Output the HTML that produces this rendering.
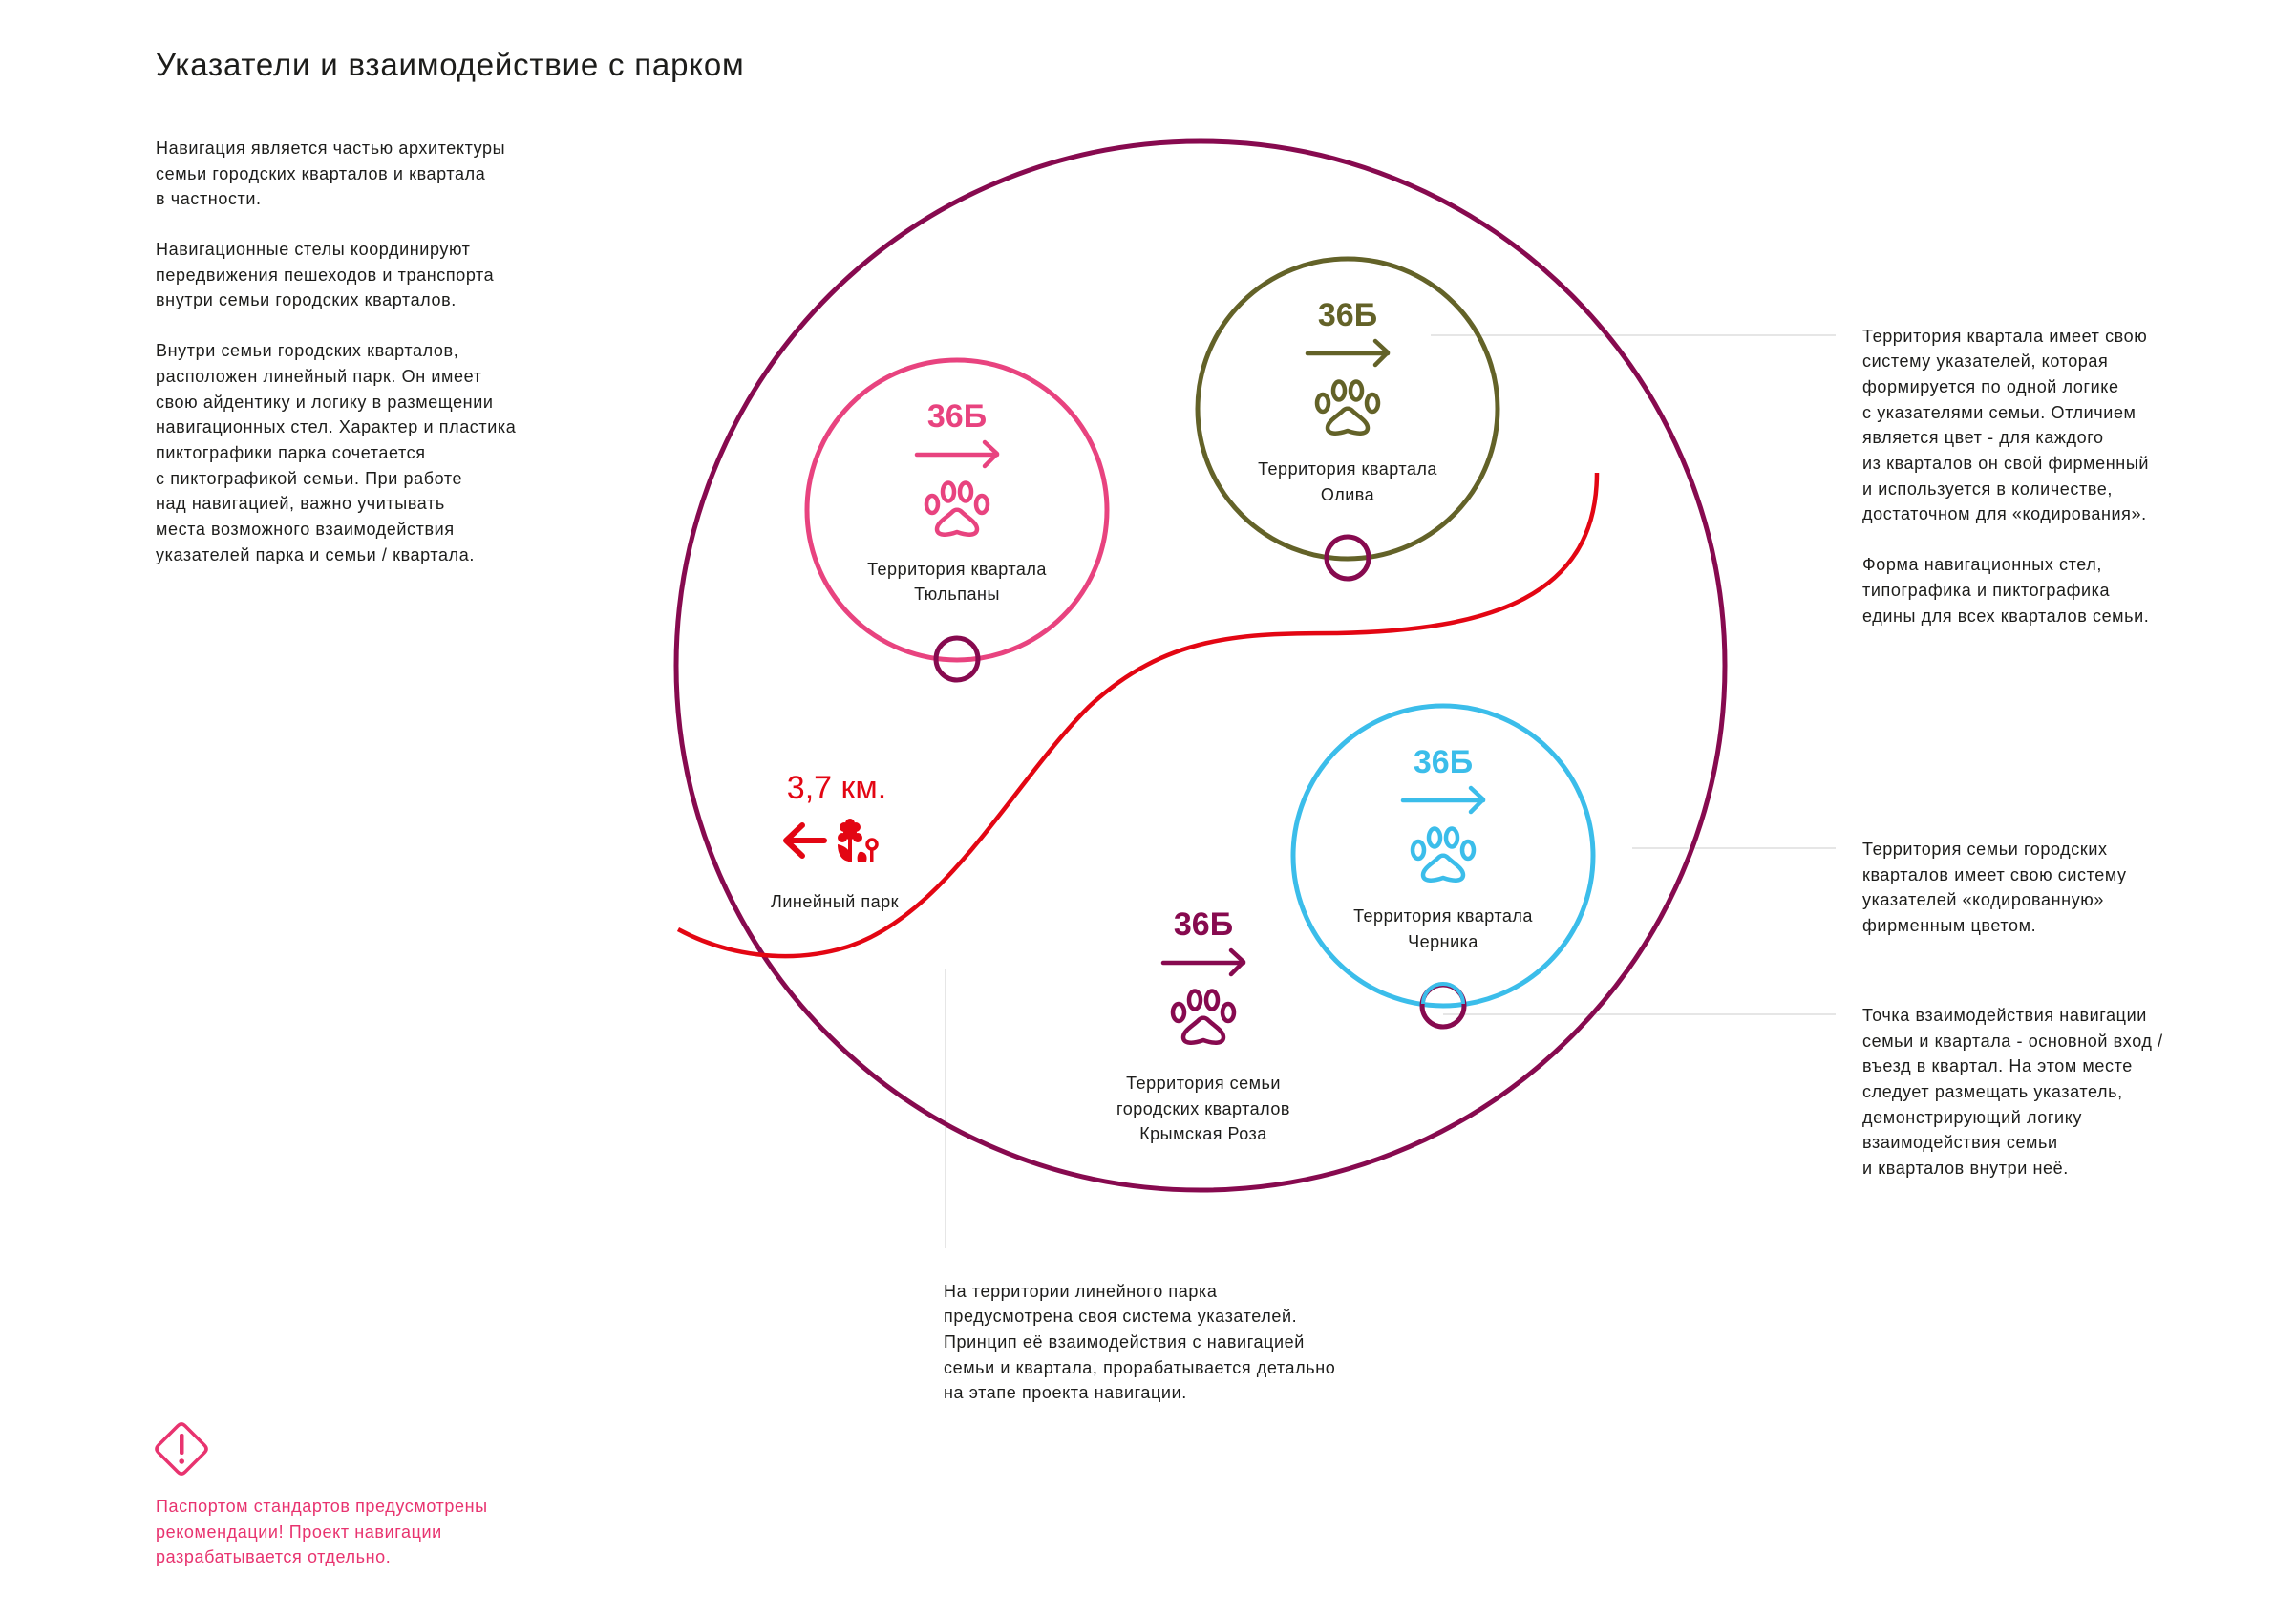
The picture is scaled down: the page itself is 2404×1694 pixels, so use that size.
<!DOCTYPE html>
<html><head><meta charset="utf-8"><style>
html,body{margin:0;padding:0;background:#fff;}
svg{display:block;}
text{font-family:"Liberation Sans","DejaVu Sans",sans-serif;}
.t{font-size:18px;fill:#1d1d1b;letter-spacing:0.6px;}
.lab{font-size:18px;fill:#1d1d1b;text-anchor:middle;letter-spacing:0.5px;}
.num{font-size:34px;font-weight:bold;text-anchor:middle;}
</style></head><body>
<svg width="2404" height="1694" viewBox="0 0 2404 1694" xmlns="http://www.w3.org/2000/svg">
<defs>
<g id="paw" fill="none" stroke-width="4.5" stroke-linejoin="round">
<ellipse cx="-26" cy="-6" rx="6" ry="9"/>
<ellipse cx="-9" cy="-19" rx="6" ry="9.5"/>
<ellipse cx="9" cy="-19" rx="6" ry="9.5"/>
<ellipse cx="26" cy="-6" rx="6" ry="9"/>
<path d="M-5,2 C-11,8 -21,13 -21,20 C-21,27 -11,27 0,23 C11,27 21,27 21,20 C21,13 11,8 5,2 C2,-1 -2,-1 -5,2 Z"/>
</g>
<g id="arr" fill="none" stroke-width="4.5" stroke-linecap="round" stroke-linejoin="round">
<path d="M-42,-58 L42,-58"/>
<path d="M29,-71 L42,-59 L29,-46"/>
</g>
</defs>

<text x="163" y="79" style="font-size:33px;fill:#1d1d1b;letter-spacing:0.8px">Указатели и взаимодействие с парком</text>

<g>
<text x="163" y="161" class="t">Навигация является частью архитектуры</text>
<text x="163" y="188" class="t">семьи городских кварталов и квартала</text>
<text x="163" y="214" class="t">в частности.</text>
<text x="163" y="267" class="t">Навигационные стелы координируют</text>
<text x="163" y="294" class="t">передвижения пешеходов и транспорта</text>
<text x="163" y="320" class="t">внутри семьи городских кварталов.</text>
<text x="163" y="373" class="t">Внутри семьи городских кварталов,</text>
<text x="163" y="400" class="t">расположен линейный парк. Он имеет</text>
<text x="163" y="427" class="t">свою айдентику и логику в размещении</text>
<text x="163" y="453" class="t">навигационных стел. Характер и пластика</text>
<text x="163" y="480" class="t">пиктографики парка сочетается</text>
<text x="163" y="507" class="t">с пиктографикой семьи. При работе</text>
<text x="163" y="533" class="t">над навигацией, важно учитывать</text>
<text x="163" y="560" class="t">места возможного взаимодействия</text>
<text x="163" y="587" class="t">указателей парка и семьи / квартала.</text>
</g>

<g stroke="#d6d6d6" stroke-width="1.2">
<line x1="1498" y1="351" x2="1922" y2="351"/>
<line x1="1709" y1="888" x2="1922" y2="888"/>
<line x1="1511" y1="1062" x2="1922" y2="1062"/>
<line x1="990" y1="1015" x2="990" y2="1307"/>
</g>

<circle cx="1257" cy="697" r="549" fill="none" stroke="#870a4f" stroke-width="5"/>

<path d="M710,973 C760,1000 825,1010 885,992 C990,960 1060,820 1140,740 C1220,665 1300,663 1400,663 C1560,660 1672,625 1672,495" fill="none" stroke="#e30613" stroke-width="4.5"/>

<g transform="translate(1002,534)">
<circle r="157" fill="none" stroke="#e8437f" stroke-width="5"/>
<text y="-87" class="num" fill="#e8437f">36Б</text>
<use href="#arr" stroke="#e8437f"/>
<use href="#paw" stroke="#e8437f"/>
<text y="68" class="lab">Территория квартала</text>
<text y="94" class="lab">Тюльпаны</text>
<circle cy="156" r="22" fill="none" stroke="#870a4f" stroke-width="5"/>
</g>

<g transform="translate(1411,428)">
<circle r="157" fill="none" stroke="#636228" stroke-width="5"/>
<text y="-87" class="num" fill="#636228">36Б</text>
<use href="#arr" stroke="#636228"/>
<use href="#paw" stroke="#636228"/>
<text y="69" class="lab">Территория квартала</text>
<text y="96" class="lab">Олива</text>
<circle cy="156" r="22" fill="none" stroke="#870a4f" stroke-width="5"/>
</g>

<g transform="translate(1511,896)">
<circle r="157" fill="none" stroke="#3bbdea" stroke-width="5"/>
<text y="-87" class="num" fill="#3bbdea">36Б</text>
<use href="#arr" stroke="#3bbdea"/>
<use href="#paw" stroke="#3bbdea"/>
<text y="69" class="lab">Территория квартала</text>
<text y="96" class="lab">Черника</text>
<circle cy="157" r="22" fill="none" stroke="#870a4f" stroke-width="5"/>
<path d="M-21,155 A21,21 0 0 1 21,155" fill="none" stroke="#3bbdea" stroke-width="4"/>
</g>

<g transform="translate(1260,1066)">
<text y="-87" class="num" fill="#870a4f">36Б</text>
<use href="#arr" stroke="#870a4f"/>
<use href="#paw" stroke="#870a4f"/>
<text y="74" class="lab">Территория семьи</text>
<text y="101" class="lab">городских кварталов</text>
<text y="127" class="lab">Крымская Роза</text>
</g>

<text x="876" y="836" style="font-size:34px;fill:#e30613;text-anchor:middle">3,7 км.</text>
<g fill="none" stroke="#e30613" stroke-width="6" stroke-linecap="round" stroke-linejoin="round">
<path d="M863,880 L824,880"/>
<path d="M840,864 L823,880 L840,896"/>
</g>
<g fill="#e30613">
<circle cx="890" cy="872" r="7"/>
<circle cx="884" cy="866" r="5"/><circle cx="896" cy="866" r="5"/>
<circle cx="882" cy="877" r="5"/><circle cx="898" cy="877" r="5"/>
<circle cx="890" cy="862" r="5"/>
<rect x="888" y="874" width="4" height="28"/>
<path d="M877,884 C877,896 883,902 890,902 L890,892 C886,887 882,885 877,884 Z"/>
<path d="M900,892 C905,891 909,895 907,902 L898,902 C897,897 898,894 900,892 Z"/>
<rect x="911" y="888" width="3.5" height="14"/>
</g>
<circle cx="913" cy="884" r="5" fill="none" stroke="#e30613" stroke-width="3.5"/>
<text x="874" y="950" class="lab">Линейный парк</text>

<g>
<text x="1950" y="358" class="t">Территория квартала имеет свою</text>
<text x="1950" y="384" class="t">систему указателей, которая</text>
<text x="1950" y="411" class="t">формируется по одной логике</text>
<text x="1950" y="438" class="t">с указателями семьи. Отличием</text>
<text x="1950" y="464" class="t">является цвет - для каждого</text>
<text x="1950" y="491" class="t">из кварталов он свой фирменный</text>
<text x="1950" y="518" class="t">и используется в количестве,</text>
<text x="1950" y="544" class="t">достаточном для «кодирования».</text>
<text x="1950" y="597" class="t">Форма навигационных стел,</text>
<text x="1950" y="624" class="t">типографика и пиктографика</text>
<text x="1950" y="651" class="t">едины для всех кварталов семьи.</text>

<text x="1950" y="895" class="t">Территория семьи городских</text>
<text x="1950" y="922" class="t">кварталов имеет свою систему</text>
<text x="1950" y="948" class="t">указателей «кодированную»</text>
<text x="1950" y="975" class="t">фирменным цветом.</text>

<text x="1950" y="1069" class="t">Точка взаимодействия навигации</text>
<text x="1950" y="1096" class="t">семьи и квартала - основной вход /</text>
<text x="1950" y="1122" class="t">въезд в квартал. На этом месте</text>
<text x="1950" y="1149" class="t">следует размещать указатель,</text>
<text x="1950" y="1176" class="t">демонстрирующий логику</text>
<text x="1950" y="1202" class="t">взаимодействия семьи</text>
<text x="1950" y="1229" class="t">и кварталов внутри неё.</text>
</g>

<g>
<text x="988" y="1358" class="t">На территории линейного парка</text>
<text x="988" y="1384" class="t">предусмотрена своя система указателей.</text>
<text x="988" y="1411" class="t">Принцип её взаимодействия с навигацией</text>
<text x="988" y="1438" class="t">семьи и квартала, прорабатывается детально</text>
<text x="988" y="1464" class="t">на этапе проекта навигации.</text>
</g>

<path d="M186,1493 Q190,1489 194,1493 L214,1513 Q218,1517 214,1521 L194,1541 Q190,1545 186,1541 L166,1521 Q162,1517 166,1513 Z" fill="none" stroke="#e8336f" stroke-width="3.5"/>
<rect x="188" y="1501" width="4.5" height="22" rx="2" fill="#e8336f"/>
<circle cx="190.2" cy="1530" r="2.8" fill="#e8336f"/>
<g style="font-size:18px;fill:#e8336f;letter-spacing:0.6px">
<text x="163" y="1583">Паспортом стандартов предусмотрены</text>
<text x="163" y="1610">рекомендации! Проект навигации</text>
<text x="163" y="1636">разрабатывается отдельно.</text>
</g>
</svg>
</body></html>
